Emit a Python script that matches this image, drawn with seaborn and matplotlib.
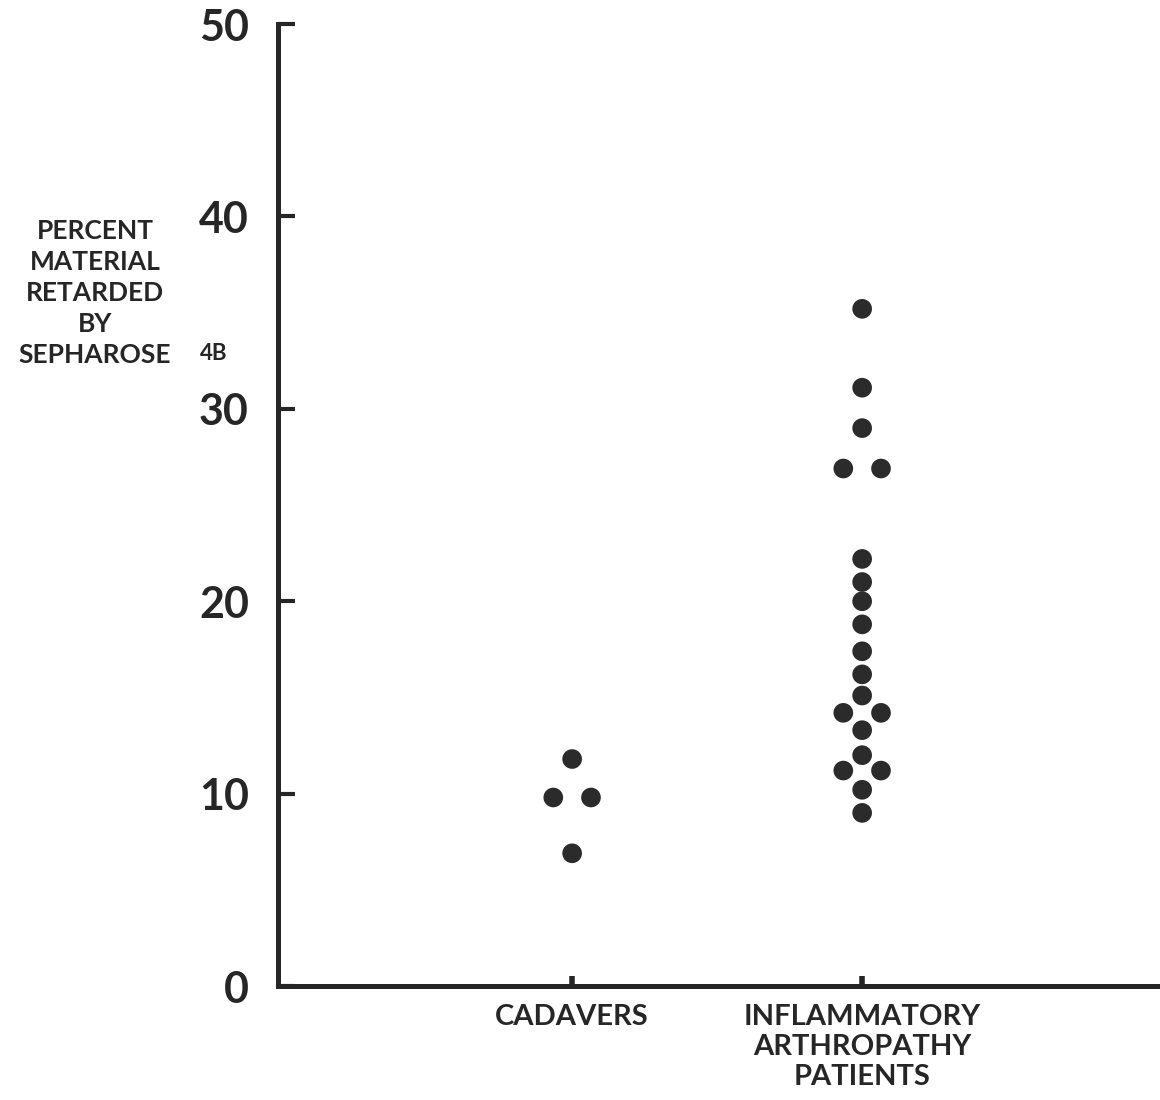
import numpy as np
import pandas as pd
import matplotlib
matplotlib.use("Agg")
import matplotlib.pyplot as plt
import seaborn as sns

# values (percent retarded by Sepharose 4B)
groups = ["CADAVERS", "INFLAMMATORY\nARTHROPATHY\nPATIENTS"]
cadavers = [11.8, 9.8, 9.8, 6.9]
inflammatory = [35.2, 31.1, 29.0, 26.9, 26.9, 22.2, 21.0, 20.0, 18.8, 17.4,
                16.2, 15.1, 14.2, 14.2, 13.3, 12.0, 11.2, 11.2, 10.2, 9.0]
yticks = [0, 10, 20, 30, 40, 50]
ylabel_lines = ["PERCENT", "MATERIAL", "RETARDED", "BY", "SEPHAROSE"]

df = pd.DataFrame({
    "group": [groups[0]] * len(cadavers) + [groups[1]] * len(inflammatory),
    "value": cadavers + inflammatory,
})
df["code"] = df["group"].map({g: i for i, g in enumerate(groups)})
# equal values sit side by side, like the hand drawn dot plot
k = df.groupby(["group", "value"]).cumcount()
n = df.groupby(["group", "value"])["value"].transform("size")
df["xpos"] = df["code"] + (k - (n - 1) / 2) * 0.13

sns.set_style("white")
plt.rcParams["font.family"] = ["Lato", "DejaVu Sans"]
ink = "#262626"

fig = plt.figure(figsize=(11.6, 11), dpi=100)
ax = fig.add_axes([0.2397, 0.1036, 0.7603, 0.8745])

sns.scatterplot(data=df, x="xpos", y="value", ax=ax, s=200, color="#2b2b2b",
                edgecolor="none", legend=False, zorder=3)

ax.set_xlim(-1.014, 2.027)
ax.set_ylim(0, 50)
ax.set_xticks(range(len(groups)))
ax.set_xticklabels(groups, fontsize=21, fontweight="bold", color=ink,
                   linespacing=1.2)
ax.set_yticks(yticks)
ax.set_yticklabels([str(t) for t in yticks], fontsize=31, fontweight="bold",
                   color=ink)
ax.tick_params(axis="y", left=True, direction="in", length=12, width=3,
               color=ink, pad=21)
ax.tick_params(axis="x", bottom=True, direction="in", length=7, width=4,
               color=ink, pad=13)
ax.set_xlabel("")
ax.set_ylabel("")

for side in ["top", "right"]:
    ax.spines[side].set_visible(False)
for side in ["left", "bottom"]:
    ax.spines[side].set_linewidth(3.6)
    ax.spines[side].set_color(ink)

fig.text(95 / 1160, 1 - 219 / 1100, "\n".join(ylabel_lines), ha="center",
         va="top", fontsize=19, fontweight="bold", color=ink, linespacing=1.35)
fig.text(200 / 1160, 1 - 354 / 1100, "4B", ha="left", va="center",
         fontsize=16, fontweight="bold", color=ink)

fig.savefig("out.png", dpi=100, facecolor="white")
